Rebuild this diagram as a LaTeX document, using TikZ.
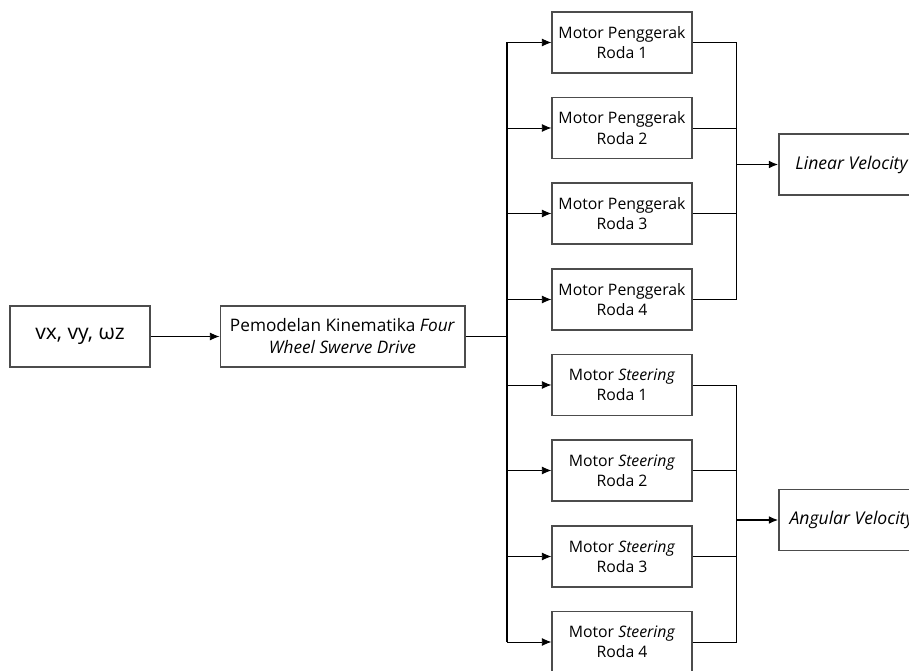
\documentclass[tikz,border=0pt]{standalone}
\usepackage{fontspec}
\setmainfont{Open Sans}
\usetikzlibrary{arrows.meta}
\tikzset{
  blok/.style={draw=black!70, line width=0.6pt, minimum width=2.8cm, minimum height=1.22cm,
    align=center, inner sep=2pt, font=\fontsize{9}{11.5}\selectfont},
  panah/.style={-{Latex[length=5.5pt,width=4.5pt]}, line width=0.5pt},
  tebal/.style={line width=1.1pt},
}
\begin{document}
\begin{tikzpicture}[x=0.02cm,y=-0.02cm]
  \useasboundingbox (0,0) rectangle (909,671);
  \clip (0,0) rectangle (909,671);
  % input and kinematics model
  \node[blok, font=\fontsize{12}{15}\selectfont] (input) at (80,336.5) {vx, vy, ωz};
  \node[blok, minimum width=4.9cm, font=\fontsize{9.8}{12.5}\selectfont] (model) at (342.5,336.5) {Pemodelan Kinematika \textit{Four}\\\textit{Wheel Swerve Drive}};
  \draw[panah] (input) -- (model);
  % drive motors
  \node[blok] (m1) at (622,42.5) {Motor Penggerak\\Roda 1};
  \node[blok] (m2) at (622,128) {Motor Penggerak\\Roda 2};
  \node[blok] (m3) at (622,213.5) {Motor Penggerak\\Roda 3};
  \node[blok] (m4) at (622,299.5) {Motor Penggerak\\Roda 4};
  % steering motors
  \node[blok] (s1) at (622,385) {Motor \textit{Steering}\\Roda 1};
  \node[blok] (s2) at (622,470.5) {Motor \textit{Steering}\\Roda 2};
  \node[blok] (s3) at (622,556.5) {Motor \textit{Steering}\\Roda 3};
  \node[blok] (s4) at (622,642) {Motor \textit{Steering}\\Roda 4};
  % outputs
  \node[blok, minimum width=2.92cm, font=\fontsize{10}{12}\selectfont] (linear) at (852,164.5) {\textit{Linear Velocity}};
  \node[blok, minimum width=2.92cm, font=\fontsize{10}{12}\selectfont] (angular) at (852,520) {\textit{Angular Velocity}};
  % left bus
  \coordinate (busL) at (507,336.5);
  \draw[tebal] (model) -- (busL);
  \draw[tebal] (busL |- m1) -- (busL |- s4);
  \draw[panah] (busL |- m1) -- (m1);
  \draw[panah] (busL |- m2) -- (m2);
  \draw[panah] (busL |- m3) -- (m3);
  \draw[panah] (busL |- m4) -- (m4);
  \draw[panah] (busL |- s1) -- (s1);
  \draw[panah] (busL |- s2) -- (s2);
  \draw[panah] (busL |- s3) -- (s3);
  \draw[panah] (busL |- s4) -- (s4);
  % right buses
  \coordinate (busR1) at (736,164.5);
  \coordinate (busR2) at (736,520);
  \draw[line width=0.5pt] (m1) -| (busR1);
  \draw[line width=0.5pt] (m2) -| (busR1);
  \draw[line width=0.5pt] (m3) -| (busR1);
  \draw[line width=0.5pt] (m4) -| (busR1);
  \draw[line width=0.5pt] (s1) -| (busR2);
  \draw[line width=0.5pt] (s2) -| (busR2);
  \draw[line width=0.5pt] (s3) -| (busR2);
  \draw[line width=0.5pt] (s4) -| (busR2);
  \draw[panah, tebal] (busR1) -- (linear);
  \draw[panah, tebal] (busR2) -- (angular);
\end{tikzpicture}
\end{document}
